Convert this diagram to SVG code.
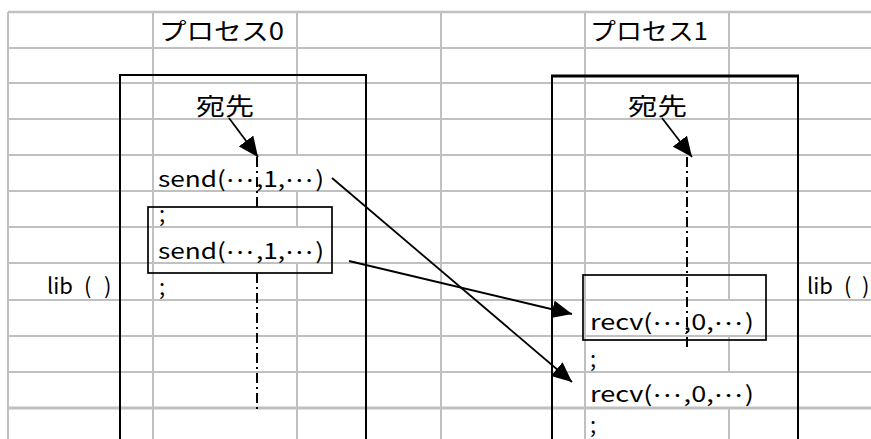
<svg xmlns="http://www.w3.org/2000/svg" width="871" height="439" viewBox="0 0 871 439">
<style>
.g{stroke:#c0c0c0;stroke-width:2;fill:none}
.b{stroke:#000;stroke-width:2;fill:none}
.dd{stroke:#000;stroke-width:2;fill:none;stroke-dasharray:10 4 2 4}
.ar{stroke:#000;stroke-width:1.8;fill:none;marker-end:url(#ah)}
.t{font-family:"Noto Sans CJK JP","Liberation Sans",sans-serif;font-size:22px;fill:#000}
.j{font-family:"Noto Sans CJK JP","Liberation Sans",sans-serif;font-size:24px;fill:#000}
.e{letter-spacing:2px}
</style>
<defs>
<marker id="ah" markerUnits="userSpaceOnUse" viewBox="0 0 20 18" refX="20" refY="9" markerWidth="20" markerHeight="18" orient="auto">
<path d="M0,0 L20,9 L0,18 z" fill="#000"/>
</marker>
</defs>
<rect width="871" height="439" fill="#fff"/>
<g id="grid">
<path class="g" style="stroke-width:2.6" d="M8,12 H871"/>
<path class="g" d="M8,48 H871 M8,83 H871 M8,119 H871 M8,155 H871 M8,191 H871 M8,227 H871 M8,263 H871 M8,300 H871 M8,336 H871 M8,372 H871"/>
<path class="g" style="stroke-width:3.2" d="M8,408 H871"/>
<path class="g" d="M8,12 V439 M153,12 V439 M297,12 V155 M297,191 V227 M297,263 V439 M441,12 V439 M585,12 V439 M729,12 V300 M729,336 V372 M729,408 V439"/>
</g>
<g id="lib-left"><text class="t" y="294"><tspan x="47">lib</tspan><tspan x="84">(</tspan><tspan x="104">)</tspan></text></g>
<g id="lib-right"><text class="t" y="294"><tspan x="807">lib</tspan><tspan x="844">(</tspan><tspan x="862">)</tspan></text></g>
<g id="process0">
<text class="j" x="159" y="40" textLength="125" lengthAdjust="spacingAndGlyphs">プロセス0</text>
<path class="b" d="M120,439 V75 H366 V439"/>
<text class="j" x="196" y="115" textLength="58" lengthAdjust="spacingAndGlyphs">宛先</text>
<text class="t" x="158" y="187" textLength="166" lengthAdjust="spacingAndGlyphs">send(<tspan class="e" dy="-5">…</tspan><tspan dy="5">,1,</tspan><tspan class="e" dy="-5">…</tspan><tspan dy="5">)</tspan></text>
<text class="t" x="159" y="222">;</text>
<text class="t" x="158" y="259" textLength="166" lengthAdjust="spacingAndGlyphs">send(<tspan class="e" dy="-5">…</tspan><tspan dy="5">,1,</tspan><tspan class="e" dy="-5">…</tspan><tspan dy="5">)</tspan></text>
<text class="t" x="159" y="295">;</text>
<rect class="b" style="stroke-width:1.7" x="148" y="207" width="184" height="66"/>
<path class="dd" d="M257,157 V207 M257,273 V413"/>
</g>
<g id="process1">
<text class="j" x="590" y="40" textLength="118" lengthAdjust="spacingAndGlyphs">プロセス1</text>
<path class="b" d="M552,439 V76 M798,76 V439"/>
<path class="b" style="stroke-width:3" d="M551,76 H799"/>
<text class="j" x="628" y="115" textLength="59" lengthAdjust="spacingAndGlyphs">宛先</text>
<rect class="b" style="stroke-width:1.7" x="583" y="275" width="183" height="65"/>
<text class="t" x="590" y="330" textLength="164" lengthAdjust="spacingAndGlyphs">recv(<tspan class="e" dy="-5">…</tspan><tspan dy="5">,0,</tspan><tspan class="e" dy="-5">…</tspan><tspan dy="5">)</tspan></text>
<text class="t" x="590" y="367">;</text>
<text class="t" x="590" y="402" textLength="164" lengthAdjust="spacingAndGlyphs">recv(<tspan class="e" dy="-5">…</tspan><tspan dy="5">,0,</tspan><tspan class="e" dy="-5">…</tspan><tspan dy="5">)</tspan></text>
<text class="t" x="590" y="433">;</text>
<path class="dd" d="M687,157 V347"/>
</g>
<g id="connectors">
<path class="ar" d="M229,118 L258,157"/>
<path class="ar" d="M662,118 L692,157"/>
<path class="ar" d="M332,178 L572,382"/>
<path class="ar" d="M349,261 L572,314"/>
</g>
</svg>
